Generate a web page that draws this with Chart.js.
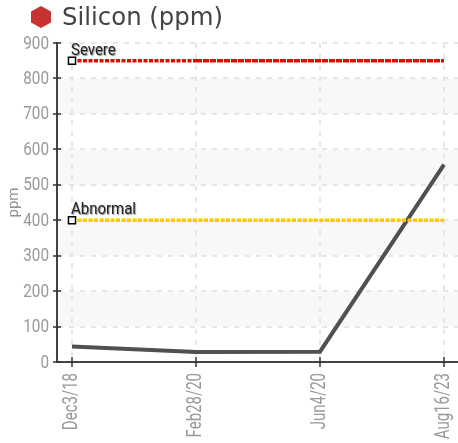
<!DOCTYPE html>
<html>
<head>
<meta charset="utf-8">
<script src="https://cdn.jsdelivr.net/npm/chart.js@4"></script>
<style>
  html, body { margin: 0; padding: 0; background: #fff; }
  #wrap { position: relative; width: 458px; height: 443px; overflow: hidden; }
  #titulo { position: absolute; left: 62px; top: 0; font: 24.4px/33px "DejaVu Sans", sans-serif; color: #444; white-space: nowrap; }
  #hex { position: absolute; left: 31px; top: 6px; }
  canvas { position: absolute; left: 0; top: 0; }
</style>
</head>
<body>
<div id="wrap">
  <canvas id="grafico" width="458" height="443"></canvas>
  <svg id="hex" width="20" height="22" viewBox="0 0 20 22"><polygon points="10,0 20,5.5 20,16.5 10,22 0,16.5 0,5.5" fill="#c93232"/></svg>
  <div id="titulo">Silicon (ppm)</div>
</div>
<script>
const fechas = ['Dec3/18', 'Feb28/20', 'Jun4/20', 'Aug16/23'];
const silicon = [44, 28, 29, 557];
const severe = [850, 850, 850, 850];
const abnormal = [400, 400, 400, 400];
const yTicks = [0, 100, 200, 300, 400, 500, 600, 700, 800, 900];
const bandas = [[700, 800], [500, 600], [300, 400], [100, 200]];
const umbrales = ['Severe', 'Abnormal'];

const toXY = arr => arr.map((v, i) => ({ x: i, y: v }));

// texto estrechado, el original usa una letra condensada
function textoEstrecho(ctx, texto, x, y, angulo, escala, align) {
  ctx.save();
  ctx.translate(x, y);
  ctx.rotate(angulo);
  ctx.scale(escala, 1);
  ctx.textAlign = align;
  ctx.fillText(texto, 0, 0);
  ctx.restore();
}

// franjas grises por debajo de la rejilla
const bandasPlugin = {
  id: 'bandas',
  beforeDraw(chart) {
    const { ctx, chartArea, scales } = chart;
    ctx.save();
    ctx.fillStyle = '#f8f8f8';
    bandas.forEach(([a, b]) => {
      const top = scales.y.getPixelForValue(b);
      ctx.fillRect(chartArea.left, top, chartArea.width, scales.y.getPixelForValue(a) - top);
    });
    ctx.restore();
  }
};

// marcas en cruz, etiquetas de los ejes y de los umbrales
const marcasPlugin = {
  id: 'marcas',
  afterDraw(chart) {
    const { ctx, chartArea, scales } = chart;
    ctx.save();
    ctx.strokeStyle = '#333';
    ctx.lineWidth = 1.5;
    ctx.beginPath();
    scales.y.ticks.forEach(t => {
      const y = Math.round(scales.y.getPixelForValue(t.value));
      ctx.moveTo(chartArea.left - 4, y);
      ctx.lineTo(chartArea.left + 4, y);
    });
    scales.x.ticks.forEach(t => {
      const x = Math.round(scales.x.getPixelForValue(t.value));
      ctx.moveTo(x, chartArea.bottom - 5);
      ctx.lineTo(x, chartArea.bottom + 5);
    });
    ctx.stroke();

    ctx.fillStyle = '#999';
    ctx.textBaseline = 'middle';
    ctx.font = '18px Roboto, sans-serif';
    scales.y.ticks.forEach(t => {
      textoEstrecho(ctx, t.label, chartArea.left - 8, scales.y.getPixelForValue(t.value) + 1, 0, 0.85, 'right');
    });
    ctx.font = '20px Roboto, sans-serif';
    scales.x.ticks.forEach(t => {
      textoEstrecho(ctx, t.label, scales.x.getPixelForValue(t.value), chartArea.bottom + 11, -Math.PI / 2, 0.75, 'right');
    });

    ctx.font = '17px Roboto, sans-serif';
    ctx.textBaseline = 'alphabetic';
    ctx.shadowColor = 'rgba(0,0,0,0.45)';
    ctx.shadowBlur = 1;
    ctx.shadowOffsetX = 1;
    ctx.shadowOffsetY = 1;
    ctx.fillStyle = '#222';
    [severe, abnormal].forEach((serie, i) => {
      textoEstrecho(ctx, umbrales[i], scales.x.getPixelForValue(0) - 1, scales.y.getPixelForValue(serie[0]) - 6, 0, 0.88, 'left');
    });
    ctx.restore();
  }
};

const umbralDataset = (label, data, color, dashFin) => ({
  label,
  data: toXY(data),
  borderColor: color,
  borderWidth: 3.5,
  borderDash: [4, 1.5],
  segment: { borderDash: c => c.p0DataIndex === 0 ? [4, 1.5] : dashFin },
  pointRadius: c => c.dataIndex === 0 ? 5 : 0,
  pointStyle: 'rect',
  pointBackgroundColor: '#fff',
  pointBorderColor: '#000',
  pointBorderWidth: 1.5
});

new Chart(document.getElementById('grafico').getContext('2d'), {
  type: 'line',
  data: {
    datasets: [
      umbralDataset('Severe', severe, '#f50000', [6, 1]),
      umbralDataset('Abnormal', abnormal, '#ffc800', [4, 1.5]),
      {
        label: 'Silicon',
        data: toXY(silicon),
        borderColor: '#505050',
        borderWidth: 4,
        pointRadius: 0,
        tension: 0
      }
    ]
  },
  options: {
    responsive: false,
    animation: false,
    layout: { autoPadding: false, padding: { top: 43, right: 0, left: 0, bottom: 0 } },
    plugins: { legend: { display: false }, tooltip: { enabled: false } },
    scales: {
      x: {
        type: 'linear',
        min: -0.121,
        max: 3.113,
        afterBuildTicks: s => { s.ticks = fechas.map((f, i) => ({ value: i })); },
        afterFit: s => { s.height = 81; },
        grid: { color: '#e6e6e6', lineWidth: 2, drawTicks: false },
        border: { color: '#444', width: 2, dash: [5, 6] },
        ticks: {
          display: false,
          autoSkip: false,
          callback: v => fechas[v]
        }
      },
      y: {
        min: 0,
        max: 900,
        afterBuildTicks: s => { s.ticks = yTicks.map(v => ({ value: v })); },
        afterFit: s => { s.width = 57; },
        grid: { color: '#e6e6e6', lineWidth: 2, drawTicks: false },
        border: { color: '#444', width: 2, dash: [5, 6] },
        title: {
          display: true,
          text: 'ppm',
          color: '#909090',
          padding: { top: 5, bottom: 0 },
          font: { family: 'Roboto, sans-serif', size: 15 }
        },
        ticks: { display: false }
      }
    }
  },
  plugins: [bandasPlugin, marcasPlugin]
});
</script>
</body>
</html>
